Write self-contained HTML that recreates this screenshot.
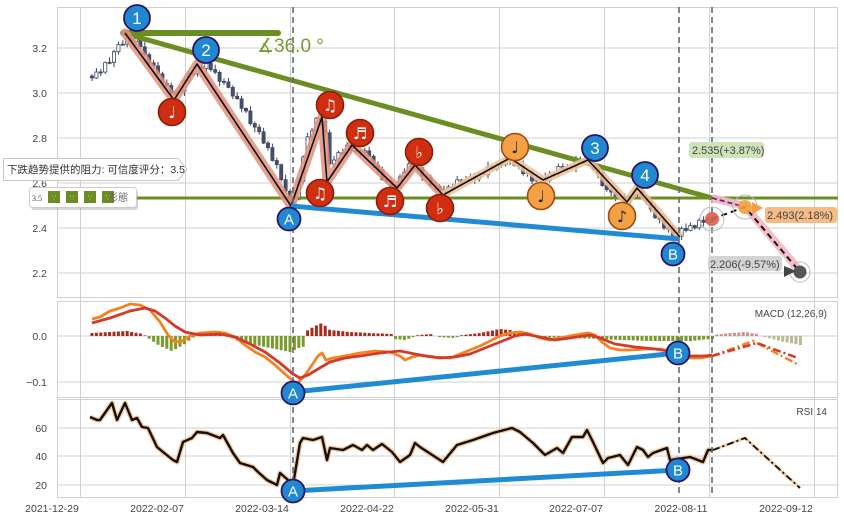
<!DOCTYPE html>
<html><head><meta charset="utf-8">
<style>
html,body{margin:0;padding:0;background:#fff;}
svg{display:block;font-family:"Liberation Sans","Noto Sans CJK SC",sans-serif;}
</style></head>
<body>
<svg width="844" height="520" viewBox="0 0 844 520" xmlns="http://www.w3.org/2000/svg">
<rect x="0" y="0" width="844" height="520" fill="#fff"/>
<g stroke="#d0d0d0" stroke-width="1" fill="none">
  <rect x="57.5" y="7.5" width="780" height="290"/>
  <rect x="57.5" y="301.5" width="780" height="96"/>
  <rect x="57.5" y="399.5" width="780" height="98"/>
  <path d="M57 48H838M57 93H838M57 138H838M57 183H838M57 228H838M57 273H838M57 336H838M57 382H838M57 428H838M57 456H838M57 485H838"/>
  <path d="M80.5 7V497M185.5 7V497M290.5 7V497M394.5 7V497M499.5 7V497M604.5 7V497M709.5 7V497M814.5 7V497"/>
</g>

<!-- candles -->
<path fill="none" stroke="#3c4660" stroke-width="1" d="M92 74V81M96.4 68V79M100.8 69V76M105.2 61.5V74M109.6 57.3V64.3M114 49.7V67.3M118.4 41.6V54.7M122.8 40.2V45.6M127.2 36.1V47.2M131.6 34.1V42.6M136 35V45.6M140.4 37V48.8M144.8 41.8V56.6M149.2 52.6V67.9M153.6 59.9V68.8M158 61.8V74.8M162.4 71.8V86.4M166.8 79.4V86.5M171.2 82.5V97.7M175.6 90.2V95.7M180 86V93.2M184.4 79V96M188.8 71.2V84M193.2 69.8V75.2M197.6 64.9V76.8M202 62.9V69.6M206.4 60.2V72.6M210.8 62.2V71.6M215.2 64.6V74.3M219.6 70.3V86.4M224 78.4V85M228.4 78V88.4M232.8 85.4V99.2M237.2 92.2V99.8M241.6 95.8V112.4M246 107.4V113M250.4 106V125.6M254.8 121.6V132.2M259.2 124.2V134.8M263.6 127.8V144.1M268 141.1V150.6M272.4 143.6V161.5M276.8 157.5V168.6M281.2 163.6V181.6M285.6 174.6V193.2M290 189.2V207M294.4 196.5V205M298.8 177.4V200.5M303.2 155.2V184.4M307.6 132.8V158.2M312 128V140.8M316.4 117.2V133M320.8 113.2V126.1M325.2 119.1V135.7M329.6 129.7V165M334 156V168M338.4 150.6V164M342.8 148.6V155.7M347.2 142.1V156.7M351.6 144.1V152.8M356 145.8V152.6M360.4 149.6V157.6M364.8 147.8V155.6M369.2 146.8V157.2M373.6 154.2V168.2M378 161.2V174.6M382.4 166.6V180.6M386.8 178.6V183.7M391.2 176.7V192.5M395.6 183.8V195.5M400 174V188.8M404.4 168.2V178M408.8 162V176.2M413.2 160V170.2M417.6 164.6V171.2M422 166.6V181M426.4 174V180.6M430.8 174.6V186.3M435.2 181.3V190.2M439.6 184.2V192.6M444 185.6V195.8M448.4 184.9V198.8M452.8 183.8V189.9M457.2 175.9V187.8M461.6 178.9V186.2M466 176V184.2M470.4 173.6V184M474.8 172.6V183.9M479.2 171.2V181.9M483.6 170.2V175.4M488 161.6V178.4M492.4 164.6V170.8M496.8 162.1V170.8M501.2 160.5V168.1M505.6 156.6V166.5M510 154.6V165.2M514.4 157.2V166.4M518.8 164.4V169.5M523.2 160.5V175.7M527.6 170.4V176.7M532 169.4V184M536.4 174V182M540.8 175.5V181M545.2 172.5V182.7M549.6 171V182.7M554 172V178.2M558.4 163.4V177.2M562.8 163.4V170M567.2 164V172M571.6 165.2V170M576 155.6V172.2M580.4 156.6V163.6M584.8 155.6V165M589.2 159.2V164M593.6 155.2V171.2M598 167.2V178.4M602.4 170.4V186.6M606.8 181.6V191.7M611.2 187.7V196.2M615.6 189.2V201.2M620 194.2V200.2M624.4 193.2V209M628.8 194.5V207M633.2 191.8V197.5M637.6 189.6V196.8M642 185.6V198M646.4 195V204.8M650.8 198.8V212.3M655.2 205.3V218.8M659.6 216.8V223.4M664 214.4V230M668.4 225.8V232.8M672.8 224.8V239.5M677.2 232.1V237.5M681.6 226.5V240.1M686 223.5V232.4M690.4 222.6V231.4M694.8 224.6V229.9M699.2 218.2V229.9M703.6 216.2V226.4M708 216.6V223.4M712.4 215.6V222.6"/>
<path fill="#46506e" stroke="#3c4660" stroke-width="0.7" d="M90.4 76h3.2v2h-3.2zM99.2 72h3.2v1h-3.2zM130 38.1h3.2v3.5h-3.2zM138.8 38h3.2v8.8h-3.2zM143.2 46.8h3.2v7.8h-3.2zM147.6 54.6h3.2v8.3h-3.2zM152 62.9h3.2v2.9h-3.2zM156.4 65.8h3.2v8h-3.2zM160.8 73.8h3.2v9.6h-3.2zM165.2 83.4h3.2v2.1h-3.2zM169.6 85.5h3.2v8.2h-3.2zM200.4 66.9h3.2v1.7h-3.2zM209.2 63.2h3.2v6.4h-3.2zM213.6 69.6h3.2v2.7h-3.2zM218 72.3h3.2v9.1h-3.2zM222.4 81.4h3.2v1h-3.2zM226.8 82h3.2v5.4h-3.2zM231.2 87.4h3.2v8.8h-3.2zM235.6 96.2h3.2v2.6h-3.2zM240 98.8h3.2v9.6h-3.2zM244.4 108.4h3.2v2.6h-3.2zM248.8 111h3.2v12.6h-3.2zM253.2 123.6h3.2v3.6h-3.2zM257.6 127.2h3.2v4.6h-3.2zM262 131.8h3.2v11.3h-3.2zM266.4 143.1h3.2v4.5h-3.2zM270.8 147.6h3.2v12.9h-3.2zM275.2 160.5h3.2v4.1h-3.2zM279.6 164.6h3.2v15h-3.2zM284 179.6h3.2v11.6h-3.2zM288.4 191.2h3.2v10.8h-3.2zM319.2 118.2h3.2v2.9h-3.2zM323.6 121.1h3.2v11.6h-3.2zM328 132.7h3.2v31.3h-3.2zM341.2 152.6h3.2v1h-3.2zM350 145.1h3.2v5.7h-3.2zM354.4 150.8h3.2v1h-3.2zM358.8 151.6h3.2v1h-3.2zM367.6 150.8h3.2v5.4h-3.2zM372 156.2h3.2v9h-3.2zM376.4 165.2h3.2v4.4h-3.2zM380.8 169.6h3.2v10h-3.2zM385.2 179.6h3.2v2.1h-3.2zM389.6 181.7h3.2v8.8h-3.2zM411.6 164h3.2v5.2h-3.2zM420.4 167.6h3.2v8.4h-3.2zM424.8 176h3.2v1.6h-3.2zM429.2 177.6h3.2v7.7h-3.2zM433.6 185.3h3.2v1h-3.2zM438 186.2h3.2v4.4h-3.2zM442.4 190.6h3.2v3.2h-3.2zM460 179.9h3.2v3.3h-3.2zM473.2 176.6h3.2v2.3h-3.2zM482 173.2h3.2v1.2h-3.2zM490.8 166.6h3.2v2.2h-3.2zM508.4 158.6h3.2v1.6h-3.2zM512.8 160.2h3.2v5.2h-3.2zM517.2 165.4h3.2v1h-3.2zM521.6 165.5h3.2v8.2h-3.2zM530.4 172.4h3.2v8.6h-3.2zM543.6 177.5h3.2v3.2h-3.2zM552.4 174h3.2v1h-3.2zM561.2 166.4h3.2v2.6h-3.2zM583.2 159.6h3.2v2.4h-3.2zM592 160.2h3.2v9h-3.2zM596.4 169.2h3.2v4.2h-3.2zM600.8 173.4h3.2v12.2h-3.2zM605.2 185.6h3.2v4.1h-3.2zM609.6 189.7h3.2v2.5h-3.2zM614 192.2h3.2v7h-3.2zM622.8 198.2h3.2v5.8h-3.2zM640.4 190.6h3.2v6.4h-3.2zM644.8 197h3.2v4.8h-3.2zM649.2 201.8h3.2v7.5h-3.2zM653.6 209.3h3.2v8.5h-3.2zM658 217.8h3.2v1.6h-3.2zM662.4 219.4h3.2v8.6h-3.2zM671.2 227.8h3.2v8.7h-3.2zM684.4 228.5h3.2v1.9h-3.2zM693.2 225.6h3.2v2.3h-3.2zM702 220.2h3.2v2.2h-3.2zM710.8 219.6h3.2v1h-3.2z"/>
<path fill="#fff" stroke="#3c4660" stroke-width="0.8" d="M94.8 72h3.2v6h-3.2zM103.6 62.5h3.2v9.5h-3.2zM108 62.3h3.2v1h-3.2zM112.4 51.7h3.2v10.6h-3.2zM116.8 44.6h3.2v7.1h-3.2zM121.2 44.2h3.2v1h-3.2zM125.6 38.1h3.2v6.1h-3.2zM134.4 38h3.2v3.6h-3.2zM174 91.2h3.2v2.5h-3.2zM178.4 91h3.2v1h-3.2zM182.8 81h3.2v10h-3.2zM187.2 74.2h3.2v6.8h-3.2zM191.6 73.8h3.2v1h-3.2zM196 66.9h3.2v6.9h-3.2zM204.8 63.2h3.2v5.4h-3.2zM292.8 199.5h3.2v2.5h-3.2zM297.2 181.4h3.2v18.1h-3.2zM301.6 157.2h3.2v24.2h-3.2zM306 136.8h3.2v20.4h-3.2zM310.4 131h3.2v5.8h-3.2zM314.8 118.2h3.2v12.8h-3.2zM332.4 160h3.2v4h-3.2zM336.8 152.6h3.2v7.4h-3.2zM345.6 145.1h3.2v7.6h-3.2zM363.2 150.8h3.2v1.8h-3.2zM394 185.8h3.2v4.7h-3.2zM398.4 177h3.2v8.8h-3.2zM402.8 172.2h3.2v4.8h-3.2zM407.2 164h3.2v8.2h-3.2zM416 167.6h3.2v1.6h-3.2zM446.8 186.9h3.2v6.9h-3.2zM451.2 186.8h3.2v1h-3.2zM455.6 179.9h3.2v6.9h-3.2zM464.4 180h3.2v3.2h-3.2zM468.8 176.6h3.2v3.4h-3.2zM477.6 173.2h3.2v5.7h-3.2zM486.4 166.6h3.2v7.8h-3.2zM495.2 165.1h3.2v3.7h-3.2zM499.6 164.5h3.2v1h-3.2zM504 158.6h3.2v5.9h-3.2zM526 172.4h3.2v1.3h-3.2zM534.8 178h3.2v3h-3.2zM539.2 177.5h3.2v1h-3.2zM548 174h3.2v6.7h-3.2zM556.8 166.4h3.2v7.8h-3.2zM565.6 168h3.2v1h-3.2zM570 167.2h3.2v1h-3.2zM574.4 160.6h3.2v6.6h-3.2zM578.8 159.6h3.2v1h-3.2zM587.6 160.2h3.2v1.8h-3.2zM618.4 198.2h3.2v1h-3.2zM627.2 196.5h3.2v7.5h-3.2zM631.6 194.8h3.2v1.7h-3.2zM636 190.6h3.2v4.2h-3.2zM666.8 227.8h3.2v1h-3.2zM675.6 236.1h3.2v1h-3.2zM680 228.5h3.2v7.6h-3.2zM688.8 225.6h3.2v4.8h-3.2zM697.6 220.2h3.2v7.7h-3.2zM706.4 219.6h3.2v2.8h-3.2z"/>

<!-- MACD histogram -->
<path fill="#a82a1e" d="M90.5 333h3v3h-3zM94.9 332.8h3v3.2h-3zM99.3 332.5h3v3.5h-3zM103.7 332.3h3v3.7h-3zM108.1 332h3v4h-3zM112.5 331.8h3v4.2h-3zM116.9 331.5h3v4.5h-3zM121.3 331.2h3v4.8h-3zM125.7 331h3v5h-3zM130.1 331.9h3v4.1h-3zM134.5 332.7h3v3.3h-3zM138.9 333.5h3v2.5h-3zM143.3 335.4h3v0.6h-3zM200.5 335h3v1h-3zM204.9 335h3v1h-3zM209.3 335h3v1h-3zM213.7 335h3v1h-3zM218.1 335h3v1h-3zM222.5 335h3v1h-3zM226.9 335h3v1h-3zM306.1 330.4h3v5.6h-3zM310.5 327.8h3v8.2h-3zM314.9 325.4h3v10.6h-3zM319.3 323.5h3v12.5h-3zM323.7 325.8h3v10.2h-3zM328.1 329.8h3v6.2h-3zM332.5 330.4h3v5.6h-3zM336.9 330.8h3v5.2h-3zM341.3 331.3h3v4.7h-3zM345.7 331.7h3v4.3h-3zM350.1 332.1h3v3.9h-3zM354.5 332.3h3v3.7h-3zM358.9 332.5h3v3.5h-3zM363.3 332.7h3v3.3h-3zM367.7 333h3v3h-3zM372.1 333.2h3v2.8h-3zM376.5 333.4h3v2.6h-3zM380.9 333.5h3v2.5h-3zM385.3 333.7h3v2.3h-3zM389.7 334h3v2h-3zM416.1 335.2h3v0.8h-3zM420.5 334.7h3v1.3h-3zM424.9 334.4h3v1.6h-3zM429.3 334.1h3v1.9h-3zM460.1 335.2h3v0.8h-3zM464.5 334.6h3v1.4h-3zM468.9 334.1h3v1.9h-3zM473.3 333.6h3v2.4h-3zM477.7 333.1h3v2.9h-3zM482.1 332.3h3v3.7h-3zM486.5 331.4h3v4.6h-3zM490.9 330.5h3v5.5h-3zM495.3 329.6h3v6.4h-3zM499.7 329.1h3v6.9h-3zM504.1 329.6h3v6.4h-3zM508.5 330h3v6h-3zM512.9 331.2h3v4.8h-3zM517.3 332.4h3v3.6h-3zM521.7 333.5h3v2.5h-3zM526.1 334.5h3v1.5h-3z"/>
<path fill="#7a9a2a" d="M147.7 336h3v2.8h-3zM152.1 336h3v5.7h-3zM156.5 336h3v8.7h-3zM160.9 336h3v11h-3zM165.3 336h3v12.8h-3zM169.7 336h3v14.7h-3zM174.1 336h3v13.1h-3zM178.5 336h3v10.7h-3zM182.9 336h3v8.3h-3zM187.3 336h3v4.7h-3zM191.7 336h3v1.5h-3zM231.3 336h3v2.5h-3zM235.7 336h3v4.6h-3zM240.1 336h3v5.7h-3zM244.5 336h3v7h-3zM248.9 336h3v8.1h-3zM253.3 336h3v9h-3zM257.7 336h3v9.8h-3zM262.1 336h3v10.7h-3zM266.5 336h3v11.6h-3zM270.9 336h3v12.5h-3zM275.3 336h3v13.4h-3zM279.7 336h3v14.2h-3zM284.1 336h3v15.1h-3zM288.5 336h3v16h-3zM292.9 336h3v14h-3zM297.3 336h3v11.9h-3zM301.7 336h3v10.8h-3zM394.1 336h3v3.1h-3zM398.5 336h3v3.5h-3zM402.9 336h3v3.9h-3zM407.3 336h3v2.7h-3zM411.7 336h3v1.1h-3zM438.1 336h3v1.1h-3zM442.5 336h3v1.4h-3zM446.9 336h3v1.6h-3zM451.3 336h3v1.9h-3zM455.7 336h3v1.1h-3zM534.9 336h3v0.5h-3zM539.3 336h3v1h-3zM543.7 336h3v1.2h-3zM548.1 336h3v1.3h-3zM552.5 336h3v1.5h-3zM556.9 336h3v1.6h-3zM561.3 336h3v1.8h-3zM565.7 336h3v1.9h-3zM570.1 336h3v2.1h-3zM574.5 336h3v2.2h-3zM578.9 336h3v2.3h-3zM583.3 336h3v2.5h-3zM587.7 336h3v2.6h-3zM592.1 336h3v2.8h-3zM596.5 336h3v2.9h-3zM600.9 336h3v3.1h-3zM605.3 336h3v3.3h-3zM609.7 336h3v3.6h-3zM614.1 336h3v3.8h-3zM618.5 336h3v4h-3zM622.9 336h3v4.1h-3zM627.3 336h3v4.3h-3zM631.7 336h3v4.4h-3zM636.1 336h3v4.6h-3zM640.5 336h3v4.7h-3zM644.9 336h3v4.9h-3zM649.3 336h3v5h-3zM653.7 336h3v5h-3zM658.1 336h3v5h-3zM662.5 336h3v5h-3zM666.9 336h3v5h-3zM671.3 336h3v5h-3zM675.7 336h3v5h-3zM680.1 336h3v5h-3zM684.5 336h3v5h-3zM688.9 336h3v5h-3zM693.3 336h3v4.5h-3zM697.7 336h3v4.1h-3zM702.1 336h3v3.6h-3zM706.5 336h3v3.2h-3zM710.9 336h3v3h-3z"/>
<path fill="#c9928a" d="M715.3 334.5h3v1.5h-3zM719.7 334h3v2h-3zM724.1 333.5h3v2.5h-3zM728.5 333h3v3h-3zM732.9 332.7h3v3.3h-3zM737.3 332.5h3v3.5h-3zM741.7 332.1h3v3.9h-3zM746.1 332.4h3v3.6h-3zM750.5 333.1h3v2.9h-3zM754.9 333.8h3v2.2h-3z"/>
<path fill="#b9b994" d="M763.7 336h3v1.1h-3zM768.1 336h3v2.2h-3zM772.5 336h3v3.4h-3zM776.9 336h3v4.6h-3zM781.3 336h3v5.6h-3zM785.7 336h3v6.4h-3zM790.1 336h3v7.3h-3zM794.5 336h3v8.2h-3zM798.9 336h3v9h-3z"/>

<!-- tick labels -->
<g font-size="10.5" fill="#444" text-anchor="end">
  <text x="47" y="52">3.2</text><text x="47" y="97">3.0</text><text x="47" y="142">2.8</text>
  <text x="47" y="187">2.6</text><text x="47" y="232">2.4</text><text x="47" y="277">2.2</text>
  <text x="47" y="340">0.0</text><text x="47" y="386">−0.1</text>
  <text x="47" y="432">60</text><text x="47" y="460">40</text><text x="47" y="489">20</text>
</g>
<g font-size="10.5" fill="#444" text-anchor="middle">
  <text x="52" y="512">2021-12-29</text><text x="157" y="512">2022-02-07</text>
  <text x="262" y="512">2022-03-14</text><text x="367" y="512">2022-04-22</text>
  <text x="472" y="512">2022-05-31</text><text x="576" y="512">2022-07-07</text>
  <text x="681" y="512">2022-08-11</text><text x="786" y="512">2022-09-12</text>
</g>
<text x="827" y="317" font-size="10" fill="#444" text-anchor="end">MACD (12,26,9)</text>
<text x="827" y="415" font-size="10" fill="#444" text-anchor="end">RSI 14</text>

<!-- green lines -->
<line x1="57" y1="198" x2="838" y2="198" stroke="#6b8e23" stroke-width="3"/>
<line x1="123" y1="33" x2="712" y2="198" stroke="#6b8e23" stroke-width="5" stroke-linecap="round"/>
<line x1="123" y1="33" x2="278" y2="33" stroke="#6b8e23" stroke-width="6" stroke-linecap="round"/>

<!-- zigzag -->
<polyline points="125,33 174,100 197,64 291,206 322,117 327,182 352,145 397,188 415,165 443,195" fill="none" stroke="#e3907c" stroke-width="9" stroke-linejoin="round" stroke-linecap="round" opacity="0.85"/>
<polyline points="443,195 510,158 543,180 588,160" fill="none" stroke="#f0c49a" stroke-width="8" stroke-linejoin="round" opacity="0.85"/>
<polyline points="588,160 627,202 637,188 680,237" fill="none" stroke="#f0bb90" stroke-width="8" stroke-linejoin="round" opacity="0.85"/>
<polyline points="125,33 174,100 197,64 291,206 322,117 327,182 352,145 397,188 415,165 443,195 510,158 543,180 588,160 627,202 637,188 680,237" fill="none" stroke="#111" stroke-width="1.6" stroke-linejoin="round"/>

<!-- blue lines -->
<line x1="291" y1="206" x2="679" y2="239" stroke="#1f8bd4" stroke-width="5"/>
<line x1="293" y1="392" x2="678" y2="353" stroke="#1f8bd4" stroke-width="5"/>
<line x1="293" y1="491" x2="678" y2="470" stroke="#1f8bd4" stroke-width="5"/>

<!-- MACD lines -->
<polyline fill="none" stroke="#f5821f" stroke-width="2.8" stroke-linejoin="round" points="92,319 100,317 110,311 120,308 130,304 140,305 150,310 160,322 168,335 175,342 182,341 190,336 200,333 215,332 225,333 235,337 245,345 255,352 265,357 275,365 285,374 293,381 298,383 305,375 312,365 318,356 322,353 326,360 333,358 345,356 360,353 375,351 390,352 400,356 405,360 412,357 420,355 435,357 450,358 460,354 470,350 480,346 490,341 500,336 510,333 520,332 530,334 540,338 550,340 560,338 575,335 588,333 595,335 602,342 610,348 620,350 630,350 645,349 660,349 672,352 680,355 690,358 700,358 712,356"/>
<polyline fill="none" stroke="#d43a2c" stroke-width="2.8" stroke-linejoin="round" points="92,323 110,318 130,311 145,308 155,311 165,318 175,326 185,332 200,335 220,334 235,337 250,344 265,352 280,363 293,374 300,378 308,375 318,369 330,362 345,358 360,356 380,353 400,351 415,354 425,356 440,358 455,357 470,354 485,348 500,342 515,336 525,334 540,337 555,340 570,338 590,335 600,338 615,344 635,347 655,349 675,352 690,356 705,356 712,355"/>
<polyline points="712,356 753,341 797,364" fill="none" stroke="#f5821f" stroke-width="2.5" stroke-dasharray="8,3,2,3"/>
<polyline points="712,356 757,343 798,358" fill="none" stroke="#d43a2c" stroke-width="2.5" stroke-dasharray="8,3,2,3"/>

<!-- RSI -->
<polyline fill="none" stroke="#f6c89c" stroke-width="5" stroke-linejoin="round" points="90,417 97,420 100,420 107,410 112,403 117,420 125,403 132,420 137,418 142,427 148,428 157,447 163,452 173,460 177,462 183,442 192,438 197,432 207,433 220,438 223,435 233,453 240,463 253,467 258,472 267,480 277,485 280,473 288,480 293,485 300,443 303,438 313,440 322,437 327,460 330,448 343,450 353,445 362,450 367,445 373,450 382,444 392,452 400,462 410,455 415,443 420,447 443,462 457,445 473,440 493,433 512,428 520,432 533,443 545,455 557,448 563,453 572,437 583,437 587,430 593,442 603,463 608,458 620,455 628,465 637,447 643,450 648,457 653,453 667,448 670,460 690,457 703,462 708,450 713,450"/>
<polyline fill="none" stroke="#111" stroke-width="2.4" stroke-linejoin="round" points="90,417 97,420 100,420 107,410 112,403 117,420 125,403 132,420 137,418 142,427 148,428 157,447 163,452 173,460 177,462 183,442 192,438 197,432 207,433 220,438 223,435 233,453 240,463 253,467 258,472 267,480 277,485 280,473 288,480 293,485 300,443 303,438 313,440 322,437 327,460 330,448 343,450 353,445 362,450 367,445 373,450 382,444 392,452 400,462 410,455 415,443 420,447 443,462 457,445 473,440 493,433 512,428 520,432 533,443 545,455 557,448 563,453 572,437 583,437 587,430 593,442 603,463 608,458 620,455 628,465 637,447 643,450 648,457 653,453 667,448 670,460 690,457 703,462 708,450 713,450"/>
<polyline points="713,450 745,438 800,488" fill="none" stroke="#f6c89c" stroke-width="3"/>
<polyline points="713,450 745,438 800,488" fill="none" stroke="#111" stroke-width="1.8" stroke-dasharray="7,3,2,3"/>

<!-- dashed verticals -->
<g stroke="#5f6b78" stroke-width="1.6" stroke-dasharray="6,4">
  <line x1="293" y1="7" x2="293" y2="497"/>
  <line x1="679" y1="7" x2="679" y2="497"/>
  <line x1="712" y1="7" x2="712" y2="497"/>
</g>

<!-- prediction -->
<polyline points="712,198 745,206 800,271" fill="none" stroke="#f4b6c0" stroke-width="8" stroke-linejoin="round" opacity="0.9"/>
<line x1="712" y1="198" x2="745" y2="207" stroke="#5a2a8a" stroke-width="1.8" stroke-dasharray="5,3"/>
<polyline points="712,219 745,207 800,272" fill="none" stroke="#111" stroke-width="2" stroke-dasharray="6,4"/>
<circle cx="712" cy="219" r="12" fill="none" stroke="#bbb"/>
<circle cx="712" cy="219" r="7" fill="#d9624a" opacity="0.9"/>
<circle cx="745" cy="207" r="12" fill="none" stroke="#bbb"/>
<circle cx="745" cy="207" r="7" fill="#f4a040" opacity="0.9"/>
<polygon points="752,202 763,208 752,214" fill="#f4a040"/>
<circle cx="800" cy="272" r="10" fill="none" stroke="#bbb"/>
<circle cx="800" cy="272" r="6.5" fill="#555"/>
<polygon points="784,266 796,271 784,277" fill="#444"/>

<!-- labeled circles -->
<g stroke="#2c1466" stroke-width="1.8" fill="#1f88d0">
  <circle cx="137" cy="18" r="13"/><circle cx="206" cy="50" r="13"/>
  <circle cx="595" cy="148" r="13"/><circle cx="645" cy="175" r="13"/>
  <circle cx="289" cy="219" r="11.5"/><circle cx="673" cy="254" r="11.5"/>
  <circle cx="293" cy="393" r="11.5"/><circle cx="678" cy="353" r="11.5"/>
  <circle cx="293" cy="491" r="11.5"/><circle cx="678" cy="470" r="11.5"/>
</g>
<g fill="#fff" text-anchor="middle" font-size="17">
  <text x="137" y="24">1</text><text x="206" y="56">2</text>
  <text x="595" y="154">3</text><text x="645" y="181">4</text>
</g>
<g fill="#fff" text-anchor="middle" font-size="15">
  <text x="289" y="224.5">A</text><text x="673" y="259.5">B</text>
  <text x="293" y="398.5">A</text><text x="678" y="358.5">B</text>
  <text x="293" y="496.5">A</text><text x="678" y="475.5">B</text>
</g>
<g stroke="#8c1c08" stroke-width="1.6" fill="#cf2f10">
  <circle cx="172" cy="112" r="13.5"/><circle cx="330" cy="105" r="13.5"/>
  <circle cx="320" cy="193" r="13.5"/><circle cx="360" cy="133" r="13.5"/>
  <circle cx="390" cy="201" r="13.5"/><circle cx="419" cy="152" r="13.5"/>
  <circle cx="440" cy="208" r="13.5"/>
</g>
<g stroke="#9c4a10" stroke-width="1.6" fill="#f4a045">
  <circle cx="515" cy="147" r="13.5"/><circle cx="541" cy="196" r="13.5"/>
  <circle cx="622" cy="216" r="13.5"/>
</g>
<g fill="#fff" text-anchor="middle" font-size="16" font-family="DejaVu Sans,sans-serif">
  <text x="172" y="118">♩</text><text x="330" y="111">♫</text>
  <text x="320" y="199">♫</text><text x="360" y="139">♬</text>
  <text x="390" y="207">♬</text><text x="419" y="158">♭</text>
  <text x="440" y="214">♭</text>
</g>
<g fill="#222" text-anchor="middle" font-size="16" font-family="DejaVu Sans,sans-serif">
  <text x="515" y="153">♩</text><text x="541" y="202">♩</text><text x="622" y="222">♪</text>
</g>

<!-- angle text -->
<text x="257" y="52" font-size="19" fill="#7a9a35">∡36.0 °</text>

<!-- prediction labels -->
<rect x="689" y="142" width="75" height="16" rx="3" fill="#cfe3b8"/>
<text x="692" y="154" font-size="11" fill="#444">2.535(+3.87%)</text>
<rect x="765" y="207" width="72" height="16" rx="3" fill="#f6bb85"/>
<text x="767" y="219" font-size="11" fill="#444">2.493(2.18%)</text>
<rect x="708" y="256" width="74" height="15" rx="3" fill="#d3d3d3"/>
<text x="710" y="268" font-size="11" fill="#444">2.206(-9.57%)</text>

<!-- legend -->
<polygon points="3.5,158.5 178,158.5 187,169.5 178,180.5 3.5,180.5" fill="#fff" stroke="#c8c8c8"/>
<text x="7" y="173" font-size="10.5" fill="#333">下跌趋势提供的阻力: 可信度评分：3.5</text>
<rect x="31" y="190" width="107" height="20" rx="3" fill="#888" opacity="0.35"/>
<rect x="29.5" y="187.5" width="107" height="20" rx="3" fill="#fff" stroke="#ccc"/>
<text x="32" y="201" font-size="8" fill="#444" font-family="Liberation Serif,serif">3.5</text>
<g fill="#6b8e23">
  <rect x="48" y="191" width="12" height="12"/><rect x="66" y="191" width="12" height="12"/>
  <rect x="84" y="191" width="12" height="12"/><rect x="102" y="191" width="12" height="12"/>
</g>
<g fill="#e8f0d0" font-size="7" text-anchor="middle" font-family="DejaVu Sans,sans-serif">
  <text x="54" y="200">∵</text><text x="72" y="200">∵</text><text x="90" y="200">∵</text><text x="108" y="200">∵</text>
</g>
<text x="108" y="201" font-size="10" fill="#666">形態</text>
</svg>
</body></html>
